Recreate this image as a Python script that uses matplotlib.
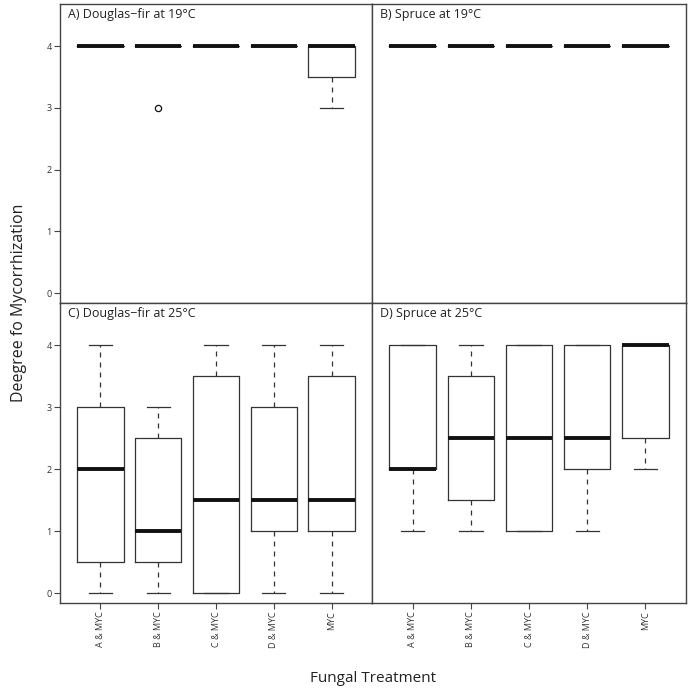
import matplotlib
matplotlib.use("Agg")
import matplotlib.pyplot as plt

plt.rcParams['font.family'] = ['Open Sans', 'DejaVu Sans']

treatments = ["A & MYC", "B & MYC", "C & MYC", "D & MYC", "MYC"]
titles = ["A) Douglas\u2212fir at 19\u00b0C", "B) Spruce at 19\u00b0C",
          "C) Douglas\u2212fir at 25\u00b0C", "D) Spruce at 25\u00b0C"]

# (whislo, q1, med, q3, whishi) per treatment
df19 = [(4, 4, 4, 4, 4), (4, 4, 4, 4, 4), (4, 4, 4, 4, 4), (4, 4, 4, 4, 4), (3, 3.5, 4, 4, 4)]
df19_out = [[], [3], [], [], []]
sp19 = [(4, 4, 4, 4, 4)] * 5
sp19_out = [[], [], [], [], []]
df25 = [(0, 0.5, 2, 3, 4), (0, 0.5, 1, 2.5, 3), (0, 0, 1.5, 3.5, 4), (0, 1, 1.5, 3, 4), (0, 1, 1.5, 3.5, 4)]
df25_out = [[], [], [], [], []]
sp25 = [(1, 2, 2, 4, 4), (1, 1.5, 2.5, 3.5, 4), (1, 1, 2.5, 4, 4), (1, 2, 2.5, 4, 4), (2, 2.5, 4, 4, 4)]
sp25_out = [[], [], [], [], []]

panels = [(df19, df19_out), (sp19, sp19_out), (df25, df25_out), (sp25, sp25_out)]

fig = plt.figure(figsize=(6.89, 6.90), dpi=100)
L, M, R = 0.0871, 0.540, 0.9956
T, MID, B = 0.9942, 0.5609, 0.1261
rects = [(L, MID, M - L, T - MID), (M, MID, R - M, T - MID),
         (L, B, M - L, MID - B), (M, B, R - M, MID - B)]

edge = "#333333"
for i, ((data, outs), rect) in enumerate(zip(panels, rects)):
    ax = fig.add_axes(rect)
    stats = []
    for (lo, q1, med, q3, hi), fl in zip(data, outs):
        stats.append(dict(whislo=lo, q1=q1, med=med, q3=q3, whishi=hi, fliers=fl))
    ax.bxp(stats, positions=range(1, 6), widths=0.8, showfliers=True,
           boxprops=dict(color=edge, linewidth=0.9),
           medianprops=dict(color="#111111", linewidth=2.8, solid_capstyle="butt"),
           whiskerprops=dict(color=edge, linewidth=0.9, linestyle=(0, (4, 4))),
           capprops=dict(color=edge, linewidth=0.9),
           capwidths=0.4,
           flierprops=dict(marker="o", markerfacecolor="none", markeredgecolor="#111111",
                           markersize=4.5, markeredgewidth=0.9))
    ax.set_xlim(0.3, 5.7)
    ax.set_ylim(-0.16, 4.68)
    for s in ax.spines.values():
        s.set_color("#444444")
        s.set_linewidth(1.0)
    ax.text(0.025, 0.985, titles[i], transform=ax.transAxes, ha="left", va="top",
            fontsize=9, color="#222222")
    ax.tick_params(axis="both", length=4, width=0.8, color="#444444",
                   labelsize=6.5, labelcolor="#333333", pad=2)
    ax.set_yticks([0, 1, 2, 3, 4])
    ax.set_xticks(range(1, 6))
    if i % 2 == 0:
        ax.set_yticklabels(["0", "1", "2", "3", "4"])
    else:
        ax.tick_params(axis="y", left=False, labelleft=False)
    if i >= 2:
        ax.set_xticklabels(treatments, rotation=90)
    else:
        ax.tick_params(axis="x", bottom=False, labelbottom=False)

fig.text(0.027, (MID), "Deegree fo Mycorrhization", rotation=90, ha="center", va="center",
         fontsize=11.5, color="#222222")
fig.text((L + R) / 2, 0.017, "Fungal Treatment", ha="center", va="center",
         fontsize=11, color="#222222")

fig.savefig("out.png", dpi=100)
